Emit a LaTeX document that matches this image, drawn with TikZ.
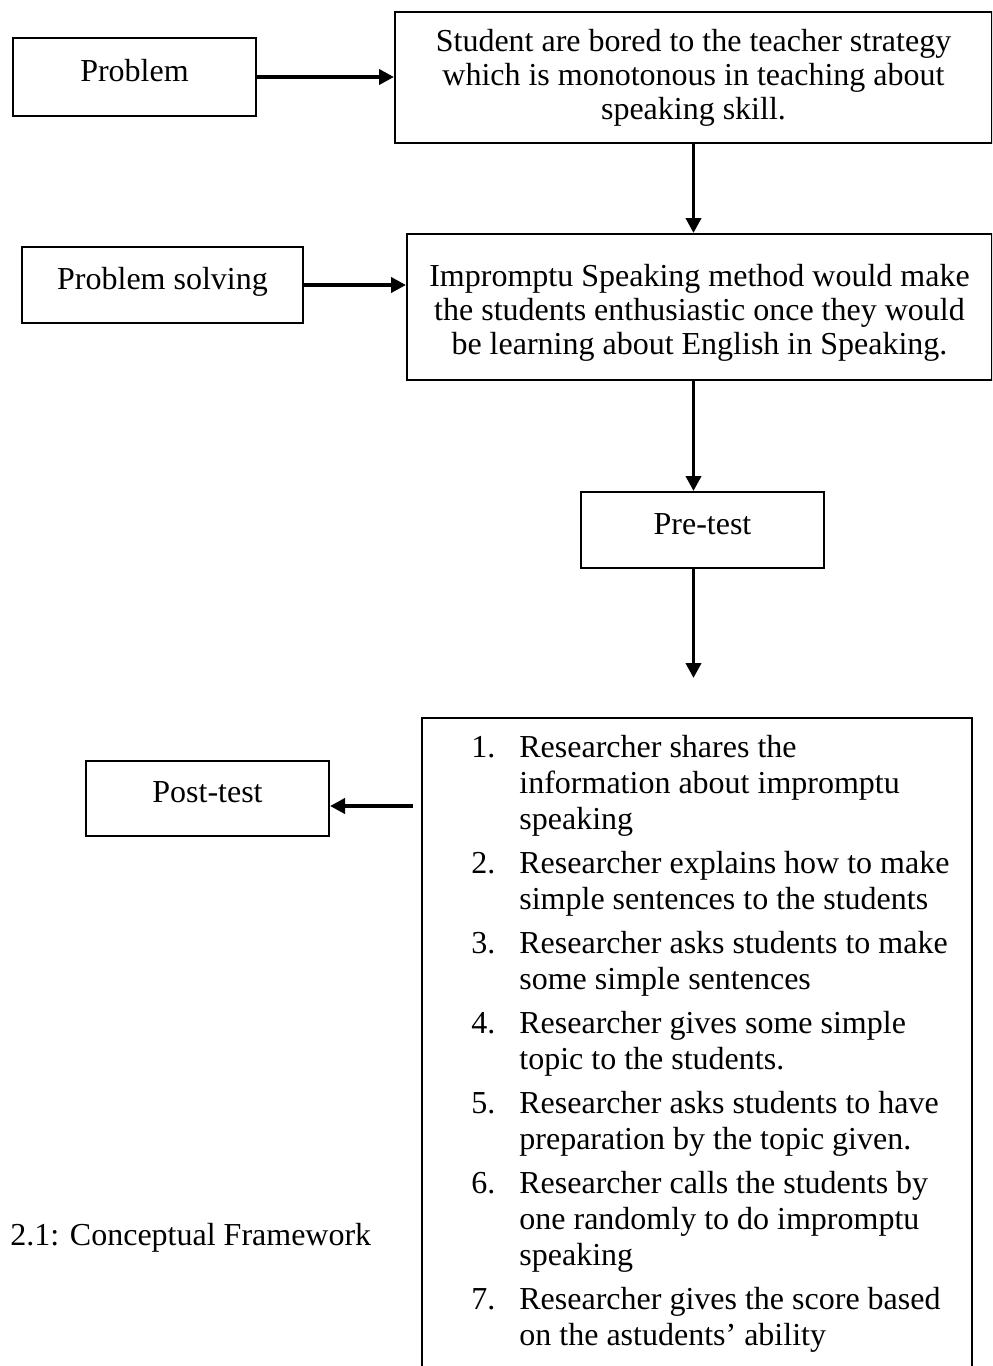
\documentclass[tikz,border=0pt]{standalone}
\usepackage{fontspec}
\setmainfont{Liberation Serif}
\usetikzlibrary{arrows.meta}
\begin{document}
\begin{tikzpicture}[x=0.5pt,y=-0.5pt,
  boxnode/.style={draw, line width=1pt, inner sep=0pt, align=center,
    font=\fontsize{16pt}{17pt}\selectfont},
  onebox/.style={boxnode, text height=11pt, text depth=7pt},
  arr/.style={line width=1.9pt, -{Triangle[length=7.5pt,width=7.5pt]}},
  txt/.style={inner sep=0pt, align=left, font=\fontsize{16pt}{18pt}\selectfont}]
\useasboundingbox (0,0) rectangle (992,1366);
\clip (0,0) rectangle (992,1366);

\node[onebox, minimum width=121.5pt, minimum height=39pt] (prob) at (134.5,77) {Problem};
\node[boxnode, minimum width=298.5pt, minimum height=65.5pt] (box1) at (693.5,77.5)
  {Student are bored to the teacher strategy\\which is monotonous in teaching about\\speaking skill.};
\node[onebox, minimum width=140.5pt, minimum height=38pt] (ps) at (162.5,285) {Problem solving};
\node[boxnode, minimum width=292.5pt, minimum height=73pt] (box2) at (699.5,307)
  {\rule{0pt}{17pt}Impromptu Speaking method would make\\the students enthusiastic once they would\\be learning about English in Speaking.};
\node[onebox, minimum width=121.5pt, minimum height=38pt] (pre) at (702.5,530) {Pre-test};
\node[onebox, minimum width=121.5pt, minimum height=37.5pt] (post) at (207.5,798.5) {Post-test};
\node[draw, line width=1pt, inner sep=0pt, minimum width=275pt, minimum height=331pt] (stepsbox) at (697,1049) {};
\node[txt, anchor=north west] (steps) at (471,735) {%
\makebox[24pt][l]{1.}Researcher shares the\\
\hspace*{24pt}information about impromptu\\
\hspace*{24pt}speaking\\[4pt]
\makebox[24pt][l]{2.}Researcher explains how to make\\
\hspace*{24pt}simple sentences to the students\\[4pt]
\makebox[24pt][l]{3.}Researcher asks students to make\\
\hspace*{24pt}some simple sentences\\[4pt]
\makebox[24pt][l]{4.}Researcher gives some simple\\
\hspace*{24pt}topic to the students.\\[4pt]
\makebox[24pt][l]{5.}Researcher asks students to have\\
\hspace*{24pt}preparation by the topic given.\\[4pt]
\makebox[24pt][l]{6.}Researcher calls the students by\\
\hspace*{24pt}one randomly to do impromptu\\
\hspace*{24pt}speaking\\[4pt]
\makebox[24pt][l]{7.}Researcher gives the score based\\
\hspace*{24pt}on the astudents' ability};
\node[anchor=base west, inner sep=0pt, font=\fontsize{16pt}{17pt}\selectfont] (cap) at (10,1245) {2.1: Conceptual Framework};

\coordinate (pend) at (693.5,678);
\coordinate (tail) at (413,806);
\draw[arr] (prob.east) -- (prob.east -| box1.west);
\draw[arr] (box1.south) -- (box1.south |- box2.north);
\draw[arr] (box1.south |- box2.south) -- (box1.south |- pre.north);
\draw[arr] (box1.south |- pre.south) -- (pend);
\draw[arr] (ps.east) -- (ps.east -| box2.west);
\draw[arr] (tail) -- (tail -| post.east);
\end{tikzpicture}
\end{document}
